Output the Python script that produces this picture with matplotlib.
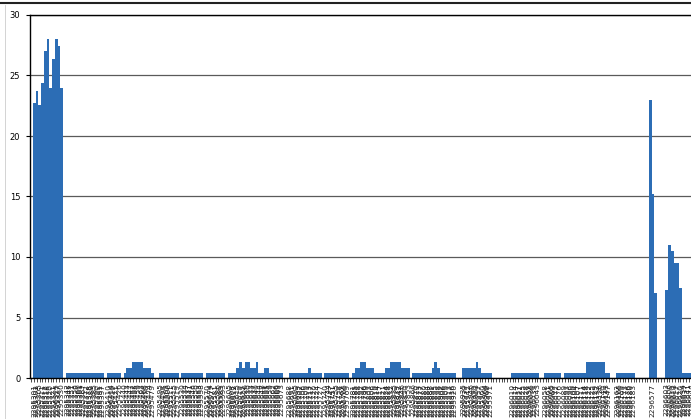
import matplotlib.pyplot as plt
from matplotlib.lines import Line2D
import numpy as np

# bar ids along the x axis (None = empty slot, no label)
ids = [
    None,
    2295301, 2295302, 2295305, 2295311, 2295312, 2295318, 2295320, 2295321, 2295325, 2295327, 2295330,
    None,
    2295342, 2295345, 2295351, 2295356, 2295360, 2295361, 2295367, 2295372, 2295378, 2295380, 2295385,
    2295390, 2295391, 2295397,
    None,
    2295410, 2295414, 2295419, 2295421, 2295426,
    None,
    2295440, 2295443, 2295447, 2295452, 2295455, 2295459, 2295463, 2295468, 2295470, 2295474, 2295479,
    None, None,
    2295495, 2295498, 2295503, 2295506, 2295511, 2295515, 2295519,
    None,
    2295530, 2295534, 2295537, 2295541, 2295546, 2295550, 2295553, 2295558,
    None,
    2295570, 2295574, 2295577, 2295581, 2295586, 2295589, 2295593,
    None,
    2295605, 2295608, 2295612, 2295615, 2295619, 2295622, 2295626, 2295630, 2295633, 2295637,
    2295640, 2295644, 2295648, 2295651, 2295655, 2295659, 2295662, 2295666, 2295669, 2295673,
    None, None,
    2295688, 2295691, 2295695, 2295699, 2295702, 2295706, 2295709, 2295713, 2295717, 2295720, 2295724, 2295727,
    None,
    2295740, 2295744, 2295747, 2295751, 2295755, 2295758, 2295762, 2295765, 2295769,
    None,
    2295781, 2295785, 2295788, 2295792, 2295796, 2295799, 2295803, 2295806, 2295810, 2295814, 2295817,
    2295821, 2295824, 2295828, 2295832, 2295835, 2295839, 2295842, 2295846, 2295850, 2295853,
    None,
    2295866, 2295870, 2295873, 2295877, 2295880, 2295884, 2295888, 2295891, 2295895, 2295898, 2295902,
    2295906, 2295909, 2295913, 2295916, 2295920,
    None, None,
    2295935, 2295939, 2295942, 2295946, 2295950, 2295953, 2295957, 2295960, 2295964, 2295968, 2295971,
    None, None, None, None, None, None, None,
    2296010, 2296014, 2296017, 2296021, 2296025, 2296028, 2296032, 2296035, 2296039, 2296043,
    None, None,
    2296058, 2296061, 2296065, 2296069, 2296072, 2296076,
    None,
    2296089, 2296093, 2296096, 2296100, 2296104, 2296107, 2296111, 2296114, 2296118, 2296122, 2296125,
    2296129, 2296132, 2296136, 2296140, 2296143, 2296147,
    None, None,
    2296162, 2296165, 2296169, 2296173, 2296176, 2296180, 2296183,
    None, None, None, None, None,
    None, 2296577, None,
    None, None, None,
    2296603, 2296606, 2296610, 2296613, 2296617, 2296620,
    2296634, 2296637, 2296641, 2296644, 2296648, 2296651,
]

# counts per id
values = [
    0,
    22.7, 23.7, 22.6, 24.4, 27.0, 28.0, 24.0, 26.4, 28.0, 27.4, 24.0,
    0,
    0.4, 0.4, 0.4, 0.4, 0.4, 0.4, 0.4, 0.4, 0.4, 0.4, 0.4,
    0.4, 0.4, 0.4,
    0,
    0.4, 0.4, 0.4, 0.4, 0.4,
    0,
    0.4, 0.85, 0.85, 1.35, 1.35, 1.35, 1.35, 0.85, 0.85, 0.85, 0.4,
    0, 0,
    0.4, 0.4, 0.4, 0.4, 0.4, 0.4, 0.4,
    0,
    0.4, 0.4, 0.4, 0.4, 0.4, 0.4, 0.4, 0.4,
    0,
    0.4, 0.4, 0.4, 0.4, 0.4, 0.4, 0.4,
    0,
    0.4, 0.4, 0.4, 0.85, 1.35, 0.85, 1.35, 1.35, 0.85, 0.85,
    1.35, 0.4, 0.4, 0.85, 0.85, 0.4, 0.4, 0.4, 0.4, 0.4,
    0, 0,
    0.4, 0.4, 0.4, 0.4, 0.4, 0.4, 0.4, 0.85, 0.4, 0.4, 0.4, 0.4,
    0,
    0.4, 0.4, 0.4, 0.4, 0.4, 0.4, 0.4, 0.4, 0.4,
    0,
    0.4, 0.85, 0.85, 1.35, 1.35, 0.85, 0.85, 0.85, 0.4, 0.4, 0.4,
    0.4, 0.85, 0.85, 1.35, 1.35, 1.35, 1.35, 0.85, 0.85, 0.85,
    0,
    0.4, 0.4, 0.4, 0.4, 0.4, 0.4, 0.4, 0.85, 1.35, 0.85, 0.4,
    0.4, 0.4, 0.4, 0.4, 0.4,
    0, 0,
    0.85, 0.85, 0.85, 0.85, 0.85, 1.35, 0.85, 0.4, 0.4, 0.4, 0.4,
    0, 0, 0, 0, 0, 0, 0,
    0.4, 0.4, 0.4, 0.4, 0.4, 0.4, 0.4, 0.4, 0.4, 0.4,
    0, 0,
    0.4, 0.4, 0.4, 0.4, 0.4, 0.4,
    0,
    0.4, 0.4, 0.4, 0.4, 0.4, 0.4, 0.4, 0.4, 1.35, 1.35, 1.35,
    1.35, 1.35, 1.35, 1.35, 0.4, 0.4,
    0, 0,
    0.4, 0.4, 0.4, 0.4, 0.4, 0.4, 0.4,
    0, 0, 0, 0, 0,
    23.0, 15.2, 7.0,
    0, 0, 0,
    7.3, 11.0, 10.5, 9.5, 9.5, 7.4,
    0.4, 0.4, 0.4, 0.4, 0.4, 0.4,
]

n = len(values)
step = 2.75  # pixels per bar

fig = plt.figure(figsize=(6.91, 4.19), dpi=100)
ax = fig.add_axes([30 / 691, 41 / 419, n * step / 691, 363 / 419])

x = np.arange(n)
ax.bar(x, values, width=1.0, color='#2c6db5', linewidth=0, zorder=2)
ax.set_xlim(-0.5, n - 0.5)
ax.set_ylim(0, 30)
ax.set_yticks([0, 5, 10, 15, 20, 25, 30])

ax.set_xticks(x)
ax.set_xticklabels(['' if i is None else str(i) for i in ids], rotation=90,
                   fontsize=5.3, color='#1a1a1a')

ax.yaxis.grid(True, color='#5a5a5a', linewidth=0.9)
ax.set_axisbelow(True)
ax.tick_params(axis='x', length=3, width=0.5, pad=1)
ax.tick_params(axis='y', length=3, width=0.8, labelsize=6, pad=4)
ax.spines['right'].set_visible(False)
for s in ['left', 'bottom', 'top']:
    ax.spines[s].set_linewidth(1.0)

# rule across the top of the page
fig.add_artist(Line2D([0, 1], [1 - 3.5 / 419] * 2, color='#222222', linewidth=1.5))
fig.add_artist(Line2D([5 / 691] * 2, [0, 1 - 5 / 419], color='#cccccc', linewidth=0.6))

fig.savefig('out.png', dpi=100)
